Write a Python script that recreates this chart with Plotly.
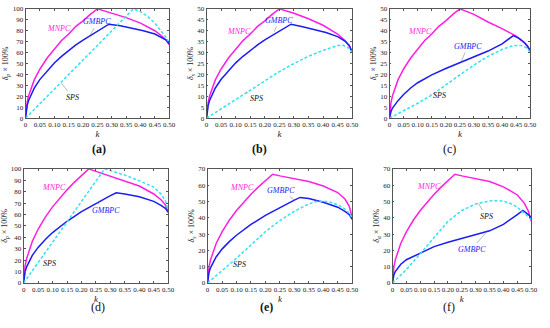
import plotly.graph_objects as go

# ---- data ----
k_ticks = [0, 0.05, 0.10, 0.15, 0.20, 0.25, 0.30, 0.35, 0.40, 0.45, 0.50]
k_tick_labels = ["0", "0.05", "0.10", "0.15", "0.20", "0.25", "0.30", "0.35", "0.40", "0.45", "0.50"]
y_ticks_100 = [0, 10, 20, 30, 40, 50, 60, 70, 80, 90, 100]
y_ticks_50 = [0, 5, 10, 15, 20, 25, 30, 35, 40, 45, 50]
y_ticks_70 = [0, 10, 20, 30, 40, 50, 60, 70]

# panel (a): delta_p
a_mnpc_k = [0, 0.002, 0.005, 0.01, 0.02, 0.03, 0.05, 0.075, 0.1, 0.125, 0.15, 0.175, 0.2, 0.225, 0.25, 0.3, 0.35, 0.4, 0.45, 0.475, 0.49, 0.5]
a_mnpc = [0, 9, 14, 20, 28, 35, 45, 55, 63, 71, 77, 84, 89, 95, 100, 96, 92, 87, 80, 75, 71, 67]
a_gmbpc_k = [0, 0.002, 0.005, 0.01, 0.02, 0.03, 0.05, 0.075, 0.1, 0.125, 0.15, 0.175, 0.2, 0.225, 0.25, 0.27, 0.29, 0.33, 0.37, 0.41, 0.45, 0.475, 0.49, 0.5]
a_gmbpc = [0, 7, 11, 16, 22.5, 27.5, 35.5, 43.5, 50.5, 56.5, 62, 67, 71.5, 75.5, 79.5, 83, 86, 84.5, 82.5, 80, 77, 74, 71.5, 68]
a_sps_k = [0, 0.05, 0.1, 0.15, 0.2, 0.25, 0.3, 0.35, 0.375, 0.4, 0.425, 0.45, 0.475, 0.49, 0.5]
a_sps = [0, 13, 26.5, 40, 53, 66.5, 80, 93.5, 100, 97.5, 93, 87, 79, 73.5, 69]

# panel (b): delta_s
b_mnpc_k = [0, 0.002, 0.005, 0.01, 0.02, 0.03, 0.05, 0.075, 0.1, 0.125, 0.15, 0.175, 0.2, 0.225, 0.25, 0.3, 0.35, 0.4, 0.45, 0.475, 0.49, 0.5]
b_mnpc = [0, 4.5, 7, 10, 14, 17.5, 22.5, 27.5, 31.5, 35.5, 38.5, 42, 44.5, 47.5, 50, 48, 45.5, 42.5, 38.5, 35.5, 33, 30.5]
b_gmbpc_k = [0, 0.002, 0.005, 0.01, 0.02, 0.03, 0.05, 0.075, 0.1, 0.125, 0.15, 0.175, 0.2, 0.225, 0.25, 0.27, 0.29, 0.33, 0.37, 0.41, 0.45, 0.475, 0.49, 0.5]
b_gmbpc = [0, 3.5, 5.5, 8, 11.3, 13.8, 17.8, 21.8, 25.3, 28.3, 31, 33.5, 35.8, 37.8, 39.8, 41.5, 43, 41.8, 40.5, 39.2, 37.3, 35.3, 33.3, 30]
b_sps_k = [0, 0.05, 0.1, 0.15, 0.2, 0.25, 0.3, 0.35, 0.4, 0.43, 0.45, 0.47, 0.49, 0.5]
b_sps = [0, 4.3, 8.6, 12.9, 17.2, 21.3, 25, 28.3, 31, 32.5, 33.2, 33.3, 32, 30]

# panel (c): delta_a
c_mnpc_k = [0, 0.002, 0.005, 0.01, 0.02, 0.03, 0.05, 0.075, 0.1, 0.125, 0.15, 0.175, 0.2, 0.225, 0.25, 0.3, 0.35, 0.4, 0.45, 0.475, 0.49, 0.5]
c_mnpc = [0, 4.5, 7, 10, 14, 17.5, 22.5, 27.5, 31.5, 35.5, 38.5, 42, 44.5, 47.5, 50, 47.5, 44, 41, 37.5, 35, 33, 30]
c_gmbpc_k = [0, 0.002, 0.005, 0.01, 0.02, 0.03, 0.05, 0.075, 0.1, 0.15, 0.2, 0.25, 0.3, 0.35, 0.4, 0.42, 0.44, 0.46, 0.48, 0.49, 0.5]
c_gmbpc = [0, 2, 3, 4.5, 6.5, 8, 10.8, 13.8, 16.2, 19.8, 22.7, 25.3, 28, 30.7, 34, 35.8, 37.8, 36.5, 34.5, 33, 31]
c_sps_k = [0, 0.05, 0.1, 0.15, 0.2, 0.25, 0.3, 0.35, 0.4, 0.43, 0.45, 0.47, 0.49, 0.5]
c_sps = [0, 3.3, 6.8, 10.6, 15, 19.8, 24.3, 28.3, 31.4, 32.8, 33.3, 33.2, 32, 30]

# panel (d): delta_p
d_mnpc_k = [0, 0.002, 0.005, 0.01, 0.02, 0.03, 0.05, 0.075, 0.1, 0.125, 0.15, 0.175, 0.2, 0.225, 0.25, 0.3, 0.35, 0.4, 0.45, 0.475, 0.49, 0.5]
d_mnpc = [0, 9.4, 14.9, 21.1, 29.8, 36.5, 47.1, 57.7, 66.7, 74.5, 81.6, 88.2, 94.3, 100, 97.8, 93.5, 89.3, 85, 78, 73, 68.5, 62]
d_gmbpc_k = [0, 0.002, 0.005, 0.01, 0.02, 0.03, 0.05, 0.075, 0.1, 0.15, 0.2, 0.25, 0.3, 0.32, 0.35, 0.4, 0.45, 0.475, 0.49, 0.5]
d_gmbpc = [0, 6.2, 9.9, 14, 19.8, 24.2, 31.2, 38.2, 44.2, 54.1, 62.5, 69.8, 76.5, 79, 78, 75.5, 71.5, 68, 65.5, 62]
d_sps_k = [0, 0.05, 0.1, 0.15, 0.2, 0.25, 0.28, 0.3, 0.35, 0.4, 0.45, 0.475, 0.49, 0.5]
d_sps = [0, 17.8, 35.7, 53.5, 71.4, 89.3, 100, 98.5, 94.5, 89.5, 84, 78, 72, 64]

# panel (e): delta_s
e_mnpc_k = [0, 0.002, 0.005, 0.01, 0.02, 0.03, 0.05, 0.075, 0.1, 0.125, 0.15, 0.175, 0.2, 0.225, 0.25, 0.3, 0.35, 0.4, 0.45, 0.475, 0.49, 0.5]
e_mnpc = [0, 6.3, 9.9, 14.1, 19.9, 24.4, 31.4, 38.5, 44.5, 49.7, 54.5, 58.8, 62.9, 66.7, 65.7, 64, 62.3, 59.5, 55.5, 51.5, 47, 40]
e_gmbpc_k = [0, 0.002, 0.005, 0.01, 0.02, 0.03, 0.05, 0.075, 0.1, 0.15, 0.2, 0.25, 0.3, 0.32, 0.35, 0.4, 0.45, 0.475, 0.49, 0.5]
e_gmbpc = [0, 4.2, 6.6, 9.3, 13.1, 16.1, 20.8, 25.4, 29.3, 35.9, 41.5, 46.4, 50.8, 52.5, 51.8, 49.5, 46.5, 44, 42, 39]
e_sps_k = [0, 0.05, 0.1, 0.15, 0.2, 0.25, 0.3, 0.35, 0.375, 0.4, 0.425, 0.45, 0.475, 0.49, 0.5]
e_sps = [0, 7.5, 15.2, 23.3, 31.5, 38.3, 44, 48.5, 50, 50.2, 49.5, 48, 45.3, 42.7, 40]

# panel (f): delta_a
f_mnpc_k = [0, 0.002, 0.005, 0.01, 0.02, 0.03, 0.05, 0.075, 0.1, 0.125, 0.15, 0.175, 0.2, 0.225, 0.25, 0.3, 0.35, 0.4, 0.45, 0.475, 0.49, 0.5]
f_mnpc = [0, 6.3, 9.9, 14.1, 19.9, 24.4, 31.4, 38.5, 44.5, 49.7, 54.5, 58.8, 62.9, 66.7, 65.7, 64, 62.3, 59, 54, 49, 44, 38]
f_gmbpc_k = [0, 0.002, 0.005, 0.01, 0.02, 0.03, 0.05, 0.075, 0.1, 0.15, 0.2, 0.25, 0.3, 0.35, 0.4, 0.43, 0.45, 0.47, 0.49, 0.5]
f_gmbpc = [0, 3, 5, 7, 9.5, 11.5, 14.3, 16.3, 18.5, 22.3, 25, 27.2, 29.5, 32, 36, 39.3, 42, 44.5, 42, 40]
f_sps_k = [0, 0.05, 0.1, 0.15, 0.2, 0.25, 0.3, 0.35, 0.375, 0.4, 0.425, 0.45, 0.475, 0.49, 0.5]
f_sps = [0, 8.2, 18, 28, 37.8, 44.5, 48.5, 50.3, 50.5, 50.2, 48.8, 46.5, 43, 40.5, 39]

MAGENTA = "#ff1fe0"
BLUE = "#1c1cf5"
CYAN = "#2fe3f2"
SERIF = "Liberation Serif"

W, H = 550, 328

panels = [
    # tag, bold, y title, y ticks, ymax, px box (l, r, top, bottom), label pos px, series, curve labels
    dict(tag="(a)", bold=True, ytitle="<i>δ</i><sub><i>p</i></sub> × 100%", yt=y_ticks_100, ymax=100,
         box=(24, 170, 5, 117), lab=(89, 149),
         mnpc=(a_mnpc_k, a_mnpc), gmbpc=(a_gmbpc_k, a_gmbpc), sps=(a_sps_k, a_sps),
         t_mnpc=(0.117, 82), t_gmbpc=(0.25, 88, 0.225, 76), t_sps=(0.163, 19, 0.125, 32)),
    dict(tag="(b)", bold=True, ytitle="<i>δ</i><sub><i>s</i></sub> × 100%", yt=y_ticks_50, ymax=50,
         box=(208, 356, 5, 117), lab=(262, 149),
         mnpc=(b_mnpc_k, b_mnpc), gmbpc=(b_gmbpc_k, b_gmbpc), sps=(b_sps_k, b_sps),
         t_mnpc=(0.113, 39.5), t_gmbpc=(0.25, 44.7, 0.232, 39.5), t_sps=(0.17, 9.2, 0.135, 12)),
    dict(tag="(c)", bold=False, ytitle="<i>δ</i><sub><i>a</i></sub> × 100%", yt=y_ticks_50, ymax=50,
         box=(394, 537, 5, 117), lab=(464, 149),
         mnpc=(c_mnpc_k, c_mnpc), gmbpc=(c_gmbpc_k, c_gmbpc), sps=(c_sps_k, c_sps),
         t_mnpc=(0.108, 39.5), t_gmbpc=(0.278, 32.8, 0.255, 26), t_sps=(0.178, 10.2, 0.145, 11)),
    dict(tag="(d)", bold=False, ytitle="<i>δ</i><sub><i>p</i></sub> × 100%", yt=y_ticks_100, ymax=100,
         box=(22, 169, 169, 286), lab=(88, 320),
         mnpc=(d_mnpc_k, d_mnpc), gmbpc=(d_gmbpc_k, d_gmbpc), sps=(d_sps_k, d_sps),
         t_mnpc=(0.105, 83.7), t_gmbpc=(0.285, 63.8, 0.255, 70.5), t_sps=(0.09, 17.4, 0.065, 23)),
    dict(tag="(e)", bold=True, ytitle="<i>δ</i><sub><i>s</i></sub> × 100%", yt=y_ticks_70, ymax=70,
         box=(209, 356, 169, 286), lab=(269, 320),
         mnpc=(e_mnpc_k, e_mnpc), gmbpc=(e_gmbpc_k, e_gmbpc), sps=(e_sps_k, e_sps),
         t_mnpc=(0.118, 58.6), t_gmbpc=(0.255, 56.8, 0.3, 51), t_sps=(0.112, 11.6, 0.095, 14.5)),
    dict(tag="(f)", bold=False, ytitle="<i>δ</i><sub><i>a</i></sub> × 100%", yt=y_ticks_70, ymax=70,
         box=(397, 538, 169, 286), lab=(463, 320),
         mnpc=(f_mnpc_k, f_mnpc), gmbpc=(f_gmbpc_k, f_gmbpc), sps=(f_sps_k, f_sps),
         t_mnpc=(0.131, 59.1), t_gmbpc=(0.285, 20.8, 0.34, 31.5), t_sps=(0.338, 41, 0.31, 48.7)),
]

fig = go.Figure()
annotations = []

for i, p in enumerate(panels):
    n = "" if i == 0 else str(i + 1)
    xa, ya = "x" + n, "y" + n
    l, r, t, b = p["box"]

    fig.add_trace(go.Scatter(x=p["mnpc"][0], y=p["mnpc"][1], mode="lines", xaxis=xa, yaxis=ya,
                             line=dict(color=MAGENTA, width=1.5), showlegend=False))
    fig.add_trace(go.Scatter(x=p["gmbpc"][0], y=p["gmbpc"][1], mode="lines", xaxis=xa, yaxis=ya,
                             line=dict(color=BLUE, width=1.5), showlegend=False))
    fig.add_trace(go.Scatter(x=p["sps"][0], y=p["sps"][1], mode="lines", xaxis=xa, yaxis=ya,
                             line=dict(color=CYAN, width=1.5, dash="3px,2px"), showlegend=False))

    axis_common = dict(showline=True, mirror="ticks", linecolor="#555", linewidth=0.8,
                       ticks="inside", ticklen=2, tickcolor="#555", showgrid=False, zeroline=False,
                       tickfont=dict(family=SERIF, size=7, color="#222"), tickangle=0)
    fig.layout["xaxis" + n] = dict(axis_common, domain=[l / W, r / W], anchor=ya, range=[0, 0.5],
                                   tickvals=k_ticks, ticktext=k_tick_labels,
                                   title=dict(text="<i>k</i>", standoff=1,
                                              font=dict(family=SERIF, size=9, color="#222")))
    fig.layout["yaxis" + n] = dict(axis_common, domain=[1 - b / H, 1 - t / H], anchor=xa,
                                   range=[0, p["ymax"]], tickvals=p["yt"],
                                   title=dict(text=p["ytitle"], standoff=2,
                                              font=dict(family=SERIF, size=8, color="#222")))

    lbl = "<b>%s</b>" % p["tag"] if p["bold"] else p["tag"]
    annotations.append(dict(text=lbl, xref="paper", yref="paper", x=p["lab"][0] / W, y=1 - p["lab"][1] / H,
                            showarrow=False, font=dict(family=SERIF, size=12, color="#111")))

    tx, ty = p["t_mnpc"]
    annotations.append(dict(text="<i>MNPC</i>", xref=xa, yref=ya, x=tx, y=ty, showarrow=False,
                            font=dict(family=SERIF, size=8, color=MAGENTA)))
    for key, txt, col in (("t_gmbpc", "<i>GMBPC</i>", BLUE), ("t_sps", "<i>SPS</i>", "#111")):
        tx, ty, hx, hy = p[key]
        annotations.append(dict(text=txt, xref=xa, yref=ya, x=hx, y=hy, ax=tx, ay=ty,
                                axref=xa, ayref=ya, showarrow=True, arrowhead=0, arrowwidth=0.6,
                                arrowcolor="#888", standoff=0,
                                font=dict(family=SERIF, size=8, color=col)))

fig.update_layout(width=W, height=H, margin=dict(l=0, r=0, t=0, b=0),
                  paper_bgcolor="white", plot_bgcolor="white", annotations=annotations)

fig.write_html("out.html", config={"displayModeBar": False},
               post_script="document.body.style.margin='0';document.body.style.overflow='hidden';")
